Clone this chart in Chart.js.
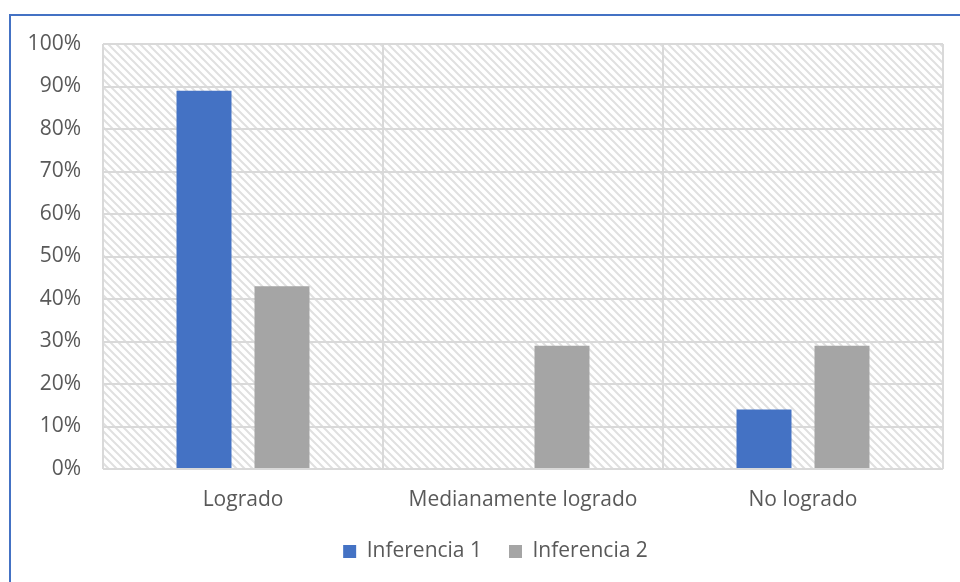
<!DOCTYPE html>
<html>
<head>
<meta charset="utf-8">
<script src="https://cdn.jsdelivr.net/npm/chart.js@4.4.0/dist/chart.umd.min.js"></script>
<style>
  html, body { margin: 0; padding: 0; background: #fff; }
  #wrap { position: relative; width: 960px; height: 582px; overflow: hidden; }
  #frame { position: absolute; left: 9px; top: 14px; width: 1000px; height: 1000px;
           border-top: 2px solid #4472c4; border-left: 2px solid #4472c4; }
  #chart { position: absolute; left: 0; top: 0; }
</style>
</head>
<body>
<div id="wrap">
  <div id="frame"></div>
  <canvas id="chart" width="960" height="582"></canvas>
</div>
<script>
// values (percent)
const categories = ['Logrado', 'Medianamente logrado', 'No logrado'];
const inferencia1 = [89, 0, 14];
const inferencia2 = [43, 29, 29];
const seriesNames = ['Inferencia 1', 'Inferencia 2'];
const yTickValues = [0, 10, 20, 30, 40, 50, 60, 70, 80, 90, 100];

const textColor = '#595959';
const gridColor = '#d9d9d9';
const font = { family: "'Open Sans', sans-serif", size: 21 };

// diagonal hatch fill behind the plot area
const hatchPlugin = {
  id: 'hatch',
  afterLayout(chart) {
    // legend is centred under the plot area, not the whole canvas
    if (chart.legend) chart.legend.left = 48;
  },
  beforeDraw(chart) {
    const { ctx, chartArea: a } = chart;
    const tile = document.createElement('canvas');
    tile.width = 8; tile.height = 8;
    const g = tile.getContext('2d');
    g.strokeStyle = '#e0e0e0';
    g.lineWidth = 2;
    g.beginPath();
    g.moveTo(-4, 4); g.lineTo(4, 12);
    g.moveTo(0, 0); g.lineTo(8, 8);
    g.moveTo(4, -4); g.lineTo(12, 4);
    g.stroke();
    ctx.save();
    ctx.fillStyle = ctx.createPattern(tile, 'repeat');
    ctx.fillRect(a.left, a.top, a.right - a.left, a.bottom - a.top);
    ctx.restore();
  }
};

new Chart(document.getElementById('chart'), {
  type: 'bar',
  data: {
    labels: categories,
    datasets: [
      { label: seriesNames[0], data: inferencia1, backgroundColor: '#4472c4' },
      { label: seriesNames[1], data: inferencia2, backgroundColor: '#a5a5a5' }
    ]
  },
  options: {
    responsive: false,
    animation: false,
    categoryPercentage: 0.557,
    barPercentage: 0.705,
    layout: { padding: { top: 44, right: 17, left: 0, bottom: 10 } },
    scales: {
      x: {
        grid: { color: gridColor, lineWidth: 2, drawTicks: false },
        border: { display: false },
        ticks: { color: textColor, font: font, padding: 18 },
        afterFit(scale) { scale.height = 45; }
      },
      y: {
        min: 0,
        max: 100,
        afterBuildTicks(scale) { scale.ticks = yTickValues.map(v => ({ value: v })); },
        grid: { color: gridColor, lineWidth: 2, drawTicks: false },
        border: { display: false },
        ticks: { color: textColor, font: font, padding: 22, callback: v => v + '%' },
        afterFit(scale) { scale.width = 103; }
      }
    },
    plugins: {
      legend: {
        position: 'bottom',
        labels: { color: textColor, font: font, boxWidth: 13, boxHeight: 13, padding: 27 }
      },
      tooltip: { enabled: false }
    }
  },
  plugins: [hatchPlugin]
});
</script>
</body>
</html>
